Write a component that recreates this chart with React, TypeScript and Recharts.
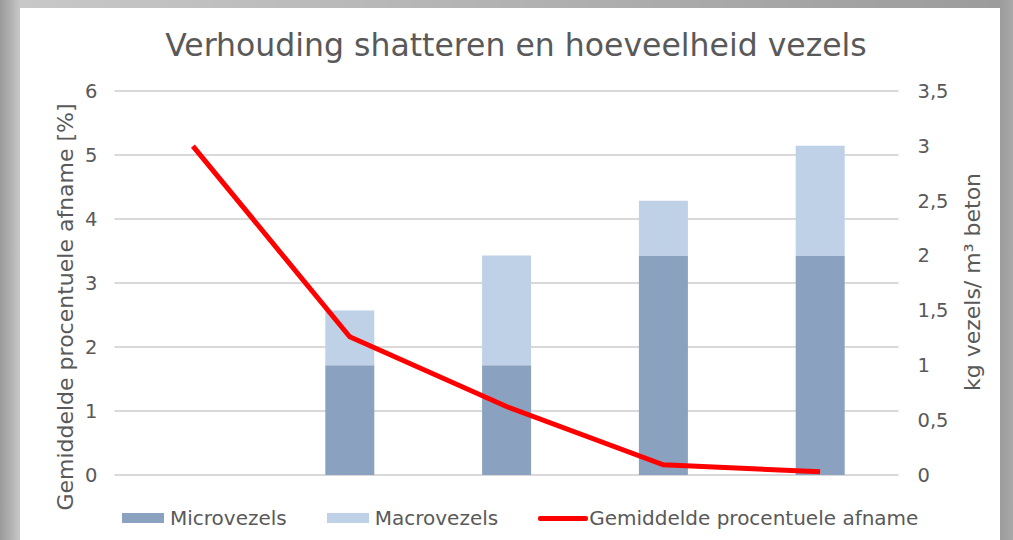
import React from 'react';
import { ComposedChart, Bar, Line, XAxis, YAxis, CartesianGrid, Label } from 'recharts';

const categories = ['0', '1', '2', '3', '4'];
const microvezels = [0, 1, 1, 2, 2];
const macrovezels = [0, 0.5, 1, 0.5, 1];
const afname = [5.14, 2.16, 1.07, 0.16, 0.05];

const leftTicks = [0, 1, 2, 3, 4, 5, 6];
const rightTicks = [0, 0.5, 1, 1.5, 2, 2.5, 3, 3.5];

const data = categories.map((c, i) => ({
  name: c,
  micro: microvezels[i],
  macro: macrovezels[i],
  afname: afname[i],
}));

const FONT = '"DejaVu Sans", sans-serif';
const TEXT = '#595959';
const MICRO = '#8aa2bf';
const MACRO = '#bfd1e6';

const LeftTitle = () => (
  <text
    x={45}
    y={299}
    transform="rotate(-90 45 299)"
    textAnchor="middle"
    dominantBaseline="central"
    fontSize={22}
    fill={TEXT}
    fontFamily={FONT}
  >
    Gemiddelde procentuele afname [%]
  </text>
);

const RightTitle = () => (
  <text
    x={952}
    y={274}
    transform="rotate(-90 952 274)"
    textAnchor="middle"
    dominantBaseline="central"
    fontSize={22}
    fill={TEXT}
    fontFamily={FONT}
  >
    kg vezels/ m³ beton
  </text>
);

const App: React.FC = () => {
  return (
    <div
      style={{
        position: 'fixed',
        left: 0,
        top: 0,
        width: 1013,
        height: 540,
        overflow: 'hidden',
        background: 'linear-gradient(90deg, #9a9a9a 0px, #b4b4b4 12px, #c8c8c8 20px, #9c9c9c 1000px, #a8a8a8 1013px)',
        fontFamily: FONT,
      }}
    >
      <div style={{ position: 'absolute', left: 20, top: 8, width: 980, height: 532, background: '#fff' }}>
        <div
          style={{
            position: 'absolute',
            top: 19,
            left: 0,
            width: 992,
            textAlign: 'center',
            fontSize: 31.5,
            color: TEXT,
          }}
        >
          Verhouding shatteren en hoeveelheid vezels
        </div>
        <div style={{ position: 'absolute', left: 0, top: 0 }}>
          <ComposedChart width={980} height={532} data={data} margin={{ top: 83, right: 0, bottom: 65, left: 0 }}>
            <CartesianGrid yAxisId="left" vertical={false} stroke="#d9d9d9" strokeWidth={2} />
            <XAxis dataKey="name" hide />
            <YAxis
              yAxisId="left"
              orientation="left"
              width={94.5}
              domain={[0, 6]}
              ticks={leftTicks}
              axisLine={false}
              tickLine={false}
              tickSize={0}
              tickMargin={17}
              tick={{ fontSize: 19.5, fill: TEXT, fontFamily: FONT }}
            >
              <Label content={<LeftTitle />} />
            </YAxis>
            <YAxis
              yAxisId="right"
              orientation="right"
              width={101.5}
              domain={[0, 3.5]}
              ticks={rightTicks}
              axisLine={false}
              tickLine={false}
              tickSize={0}
              tickMargin={19}
              tickFormatter={(v: number) => String(v).replace('.', ',')}
              tick={{ fontSize: 19.5, fill: TEXT, fontFamily: FONT }}
            >
              <Label content={<RightTitle />} />
            </YAxis>
            <Bar yAxisId="right" dataKey="micro" stackId="a" fill={MICRO} barSize={49} isAnimationActive={false} />
            <Bar yAxisId="right" dataKey="macro" stackId="a" fill={MACRO} barSize={49} isAnimationActive={false} />
            <Line
              yAxisId="left"
              type="linear"
              dataKey="afname"
              stroke="#ff0000"
              strokeWidth={5}
              dot={false}
              isAnimationActive={false}
            />
          </ComposedChart>
        </div>
        <div
          style={{
            position: 'absolute',
            left: 102,
            top: 498,
            display: 'flex',
            alignItems: 'center',
            fontSize: 20,
            color: TEXT,
            whiteSpace: 'nowrap',
          }}
        >
          <span style={{ display: 'inline-block', width: 42, height: 10, background: MICRO, marginRight: 6 }} />
          <span style={{ marginRight: 40 }}>Microvezels</span>
          <span style={{ display: 'inline-block', width: 42, height: 10, background: MACRO, marginRight: 6 }} />
          <span style={{ marginRight: 40 }}>Macrovezels</span>
          <span style={{ display: 'inline-block', width: 50, height: 5, background: '#ff0000', borderRadius: 2, marginRight: 1 }} />
          <span>Gemiddelde procentuele afname</span>
        </div>
      </div>
    </div>
  );
};

export default App;
